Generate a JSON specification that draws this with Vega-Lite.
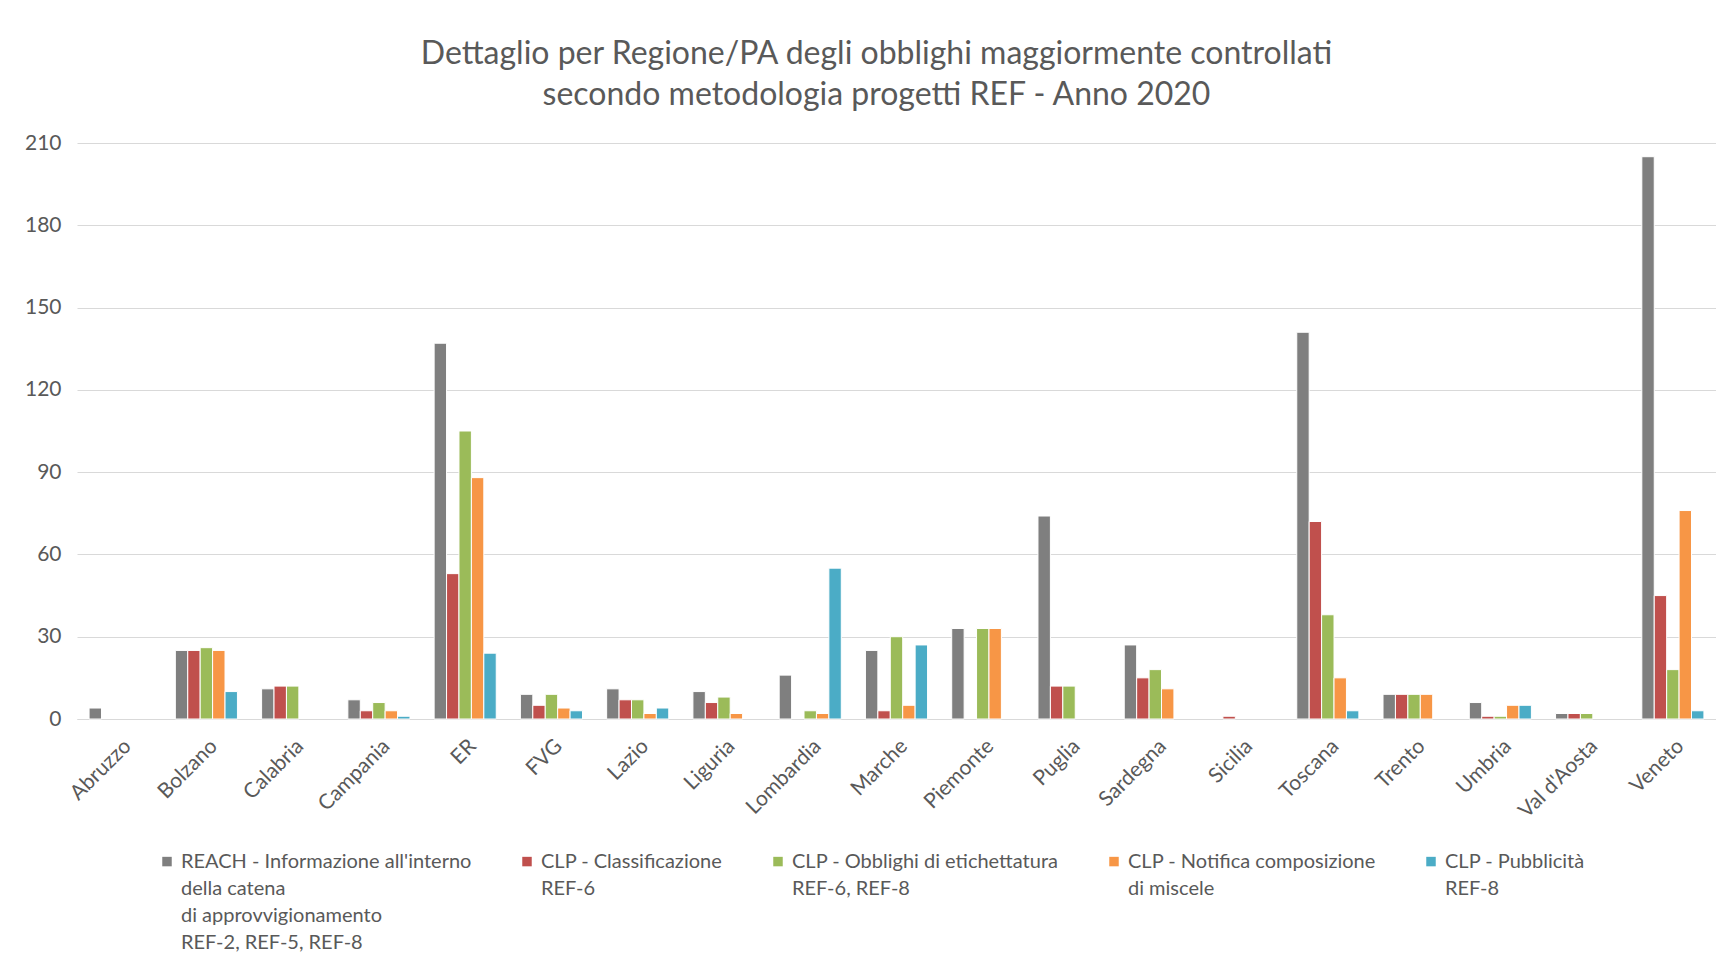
{
  "$schema": "https://vega.github.io/schema/vega-lite/v6.json",
  "width": 1639,
  "height": 576,
  "padding": {"left": 24, "top": 38, "right": 0, "bottom": 0},
  "background": "white",
  "title": {
    "text": ["Dettaglio per Regione/PA degli obblighi maggiormente controllati", "secondo metodologia progetti REF - Anno 2020"],
    "font": "Lato", "fontSize": 32, "fontWeight": "normal", "color": "#595959",
    "lineHeight": 41, "offset": 20, "dx": -20, "anchor": "middle"
  },
  "datasets": {
    "obblighi": [
      {"regione": "Abruzzo", "serie": "REACH - Informazione all'interno\n\u00a0della catena\ndi approvvigionamento\nREF-2, REF-5, REF-8", "valore": 4},
      {"regione": "Bolzano", "serie": "REACH - Informazione all'interno\n\u00a0della catena\ndi approvvigionamento\nREF-2, REF-5, REF-8", "valore": 25},
      {"regione": "Bolzano", "serie": "CLP - Classificazione\nREF-6", "valore": 25},
      {"regione": "Bolzano", "serie": "CLP - Obblighi di etichettatura\nREF-6, REF-8", "valore": 26},
      {"regione": "Bolzano", "serie": "CLP - Notifica composizione\ndi miscele", "valore": 25},
      {"regione": "Bolzano", "serie": "CLP - Pubblicità\nREF-8", "valore": 10},
      {"regione": "Calabria", "serie": "REACH - Informazione all'interno\n\u00a0della catena\ndi approvvigionamento\nREF-2, REF-5, REF-8", "valore": 11},
      {"regione": "Calabria", "serie": "CLP - Classificazione\nREF-6", "valore": 12},
      {"regione": "Calabria", "serie": "CLP - Obblighi di etichettatura\nREF-6, REF-8", "valore": 12},
      {"regione": "Campania", "serie": "REACH - Informazione all'interno\n\u00a0della catena\ndi approvvigionamento\nREF-2, REF-5, REF-8", "valore": 7},
      {"regione": "Campania", "serie": "CLP - Classificazione\nREF-6", "valore": 3},
      {"regione": "Campania", "serie": "CLP - Obblighi di etichettatura\nREF-6, REF-8", "valore": 6},
      {"regione": "Campania", "serie": "CLP - Notifica composizione\ndi miscele", "valore": 3},
      {"regione": "Campania", "serie": "CLP - Pubblicità\nREF-8", "valore": 1},
      {"regione": "ER", "serie": "REACH - Informazione all'interno\n\u00a0della catena\ndi approvvigionamento\nREF-2, REF-5, REF-8", "valore": 137},
      {"regione": "ER", "serie": "CLP - Classificazione\nREF-6", "valore": 53},
      {"regione": "ER", "serie": "CLP - Obblighi di etichettatura\nREF-6, REF-8", "valore": 105},
      {"regione": "ER", "serie": "CLP - Notifica composizione\ndi miscele", "valore": 88},
      {"regione": "ER", "serie": "CLP - Pubblicità\nREF-8", "valore": 24},
      {"regione": "FVG", "serie": "REACH - Informazione all'interno\n\u00a0della catena\ndi approvvigionamento\nREF-2, REF-5, REF-8", "valore": 9},
      {"regione": "FVG", "serie": "CLP - Classificazione\nREF-6", "valore": 5},
      {"regione": "FVG", "serie": "CLP - Obblighi di etichettatura\nREF-6, REF-8", "valore": 9},
      {"regione": "FVG", "serie": "CLP - Notifica composizione\ndi miscele", "valore": 4},
      {"regione": "FVG", "serie": "CLP - Pubblicità\nREF-8", "valore": 3},
      {"regione": "Lazio", "serie": "REACH - Informazione all'interno\n\u00a0della catena\ndi approvvigionamento\nREF-2, REF-5, REF-8", "valore": 11},
      {"regione": "Lazio", "serie": "CLP - Classificazione\nREF-6", "valore": 7},
      {"regione": "Lazio", "serie": "CLP - Obblighi di etichettatura\nREF-6, REF-8", "valore": 7},
      {"regione": "Lazio", "serie": "CLP - Notifica composizione\ndi miscele", "valore": 2},
      {"regione": "Lazio", "serie": "CLP - Pubblicità\nREF-8", "valore": 4},
      {"regione": "Liguria", "serie": "REACH - Informazione all'interno\n\u00a0della catena\ndi approvvigionamento\nREF-2, REF-5, REF-8", "valore": 10},
      {"regione": "Liguria", "serie": "CLP - Classificazione\nREF-6", "valore": 6},
      {"regione": "Liguria", "serie": "CLP - Obblighi di etichettatura\nREF-6, REF-8", "valore": 8},
      {"regione": "Liguria", "serie": "CLP - Notifica composizione\ndi miscele", "valore": 2},
      {"regione": "Lombardia", "serie": "REACH - Informazione all'interno\n\u00a0della catena\ndi approvvigionamento\nREF-2, REF-5, REF-8", "valore": 16},
      {"regione": "Lombardia", "serie": "CLP - Obblighi di etichettatura\nREF-6, REF-8", "valore": 3},
      {"regione": "Lombardia", "serie": "CLP - Notifica composizione\ndi miscele", "valore": 2},
      {"regione": "Lombardia", "serie": "CLP - Pubblicità\nREF-8", "valore": 55},
      {"regione": "Marche", "serie": "REACH - Informazione all'interno\n\u00a0della catena\ndi approvvigionamento\nREF-2, REF-5, REF-8", "valore": 25},
      {"regione": "Marche", "serie": "CLP - Classificazione\nREF-6", "valore": 3},
      {"regione": "Marche", "serie": "CLP - Obblighi di etichettatura\nREF-6, REF-8", "valore": 30},
      {"regione": "Marche", "serie": "CLP - Notifica composizione\ndi miscele", "valore": 5},
      {"regione": "Marche", "serie": "CLP - Pubblicità\nREF-8", "valore": 27},
      {"regione": "Piemonte", "serie": "REACH - Informazione all'interno\n\u00a0della catena\ndi approvvigionamento\nREF-2, REF-5, REF-8", "valore": 33},
      {"regione": "Piemonte", "serie": "CLP - Obblighi di etichettatura\nREF-6, REF-8", "valore": 33},
      {"regione": "Piemonte", "serie": "CLP - Notifica composizione\ndi miscele", "valore": 33},
      {"regione": "Puglia", "serie": "REACH - Informazione all'interno\n\u00a0della catena\ndi approvvigionamento\nREF-2, REF-5, REF-8", "valore": 74},
      {"regione": "Puglia", "serie": "CLP - Classificazione\nREF-6", "valore": 12},
      {"regione": "Puglia", "serie": "CLP - Obblighi di etichettatura\nREF-6, REF-8", "valore": 12},
      {"regione": "Sardegna", "serie": "REACH - Informazione all'interno\n\u00a0della catena\ndi approvvigionamento\nREF-2, REF-5, REF-8", "valore": 27},
      {"regione": "Sardegna", "serie": "CLP - Classificazione\nREF-6", "valore": 15},
      {"regione": "Sardegna", "serie": "CLP - Obblighi di etichettatura\nREF-6, REF-8", "valore": 18},
      {"regione": "Sardegna", "serie": "CLP - Notifica composizione\ndi miscele", "valore": 11},
      {"regione": "Sicilia", "serie": "CLP - Classificazione\nREF-6", "valore": 1},
      {"regione": "Toscana", "serie": "REACH - Informazione all'interno\n\u00a0della catena\ndi approvvigionamento\nREF-2, REF-5, REF-8", "valore": 141},
      {"regione": "Toscana", "serie": "CLP - Classificazione\nREF-6", "valore": 72},
      {"regione": "Toscana", "serie": "CLP - Obblighi di etichettatura\nREF-6, REF-8", "valore": 38},
      {"regione": "Toscana", "serie": "CLP - Notifica composizione\ndi miscele", "valore": 15},
      {"regione": "Toscana", "serie": "CLP - Pubblicità\nREF-8", "valore": 3},
      {"regione": "Trento", "serie": "REACH - Informazione all'interno\n\u00a0della catena\ndi approvvigionamento\nREF-2, REF-5, REF-8", "valore": 9},
      {"regione": "Trento", "serie": "CLP - Classificazione\nREF-6", "valore": 9},
      {"regione": "Trento", "serie": "CLP - Obblighi di etichettatura\nREF-6, REF-8", "valore": 9},
      {"regione": "Trento", "serie": "CLP - Notifica composizione\ndi miscele", "valore": 9},
      {"regione": "Umbria", "serie": "REACH - Informazione all'interno\n\u00a0della catena\ndi approvvigionamento\nREF-2, REF-5, REF-8", "valore": 6},
      {"regione": "Umbria", "serie": "CLP - Classificazione\nREF-6", "valore": 1},
      {"regione": "Umbria", "serie": "CLP - Obblighi di etichettatura\nREF-6, REF-8", "valore": 1},
      {"regione": "Umbria", "serie": "CLP - Notifica composizione\ndi miscele", "valore": 5},
      {"regione": "Umbria", "serie": "CLP - Pubblicità\nREF-8", "valore": 5},
      {"regione": "Val d'Aosta", "serie": "REACH - Informazione all'interno\n\u00a0della catena\ndi approvvigionamento\nREF-2, REF-5, REF-8", "valore": 2},
      {"regione": "Val d'Aosta", "serie": "CLP - Classificazione\nREF-6", "valore": 2},
      {"regione": "Val d'Aosta", "serie": "CLP - Obblighi di etichettatura\nREF-6, REF-8", "valore": 2},
      {"regione": "Veneto", "serie": "REACH - Informazione all'interno\n\u00a0della catena\ndi approvvigionamento\nREF-2, REF-5, REF-8", "valore": 205},
      {"regione": "Veneto", "serie": "CLP - Classificazione\nREF-6", "valore": 45},
      {"regione": "Veneto", "serie": "CLP - Obblighi di etichettatura\nREF-6, REF-8", "valore": 18},
      {"regione": "Veneto", "serie": "CLP - Notifica composizione\ndi miscele", "valore": 76},
      {"regione": "Veneto", "serie": "CLP - Pubblicità\nREF-8", "valore": 3}
    ]
  },
  "data": {"name": "obblighi"},
  "mark": {"type": "bar", "stroke": "white", "strokeWidth": 1},
  "encoding": {
    "x": {
      "field": "regione", "type": "nominal", "sort": null,
      "scale": {
        "domain": ["Abruzzo", "Bolzano", "Calabria", "Campania", "ER", "FVG", "Lazio", "Liguria", "Lombardia", "Marche", "Piemonte", "Puglia", "Sardegna", "Sicilia", "Toscana", "Trento", "Umbria", "Val d'Aosta", "Veneto"],
        "paddingInner": 0.28, "paddingOuter": 0.14
      },
      "axis": {
        "title": null, "labelAngle": -45, "ticks": false, "domainColor": "#d9d9d9",
        "labelPadding": 16, "labelFontSize": 21, "labelColor": "#595959", "labelFont": "Lato"
      }
    },
    "xOffset": {
      "field": "serie", "type": "nominal",
      "scale": {
        "domain": ["REACH - Informazione all'interno\n\u00a0della catena\ndi approvvigionamento\nREF-2, REF-5, REF-8", "CLP - Classificazione\nREF-6", "CLP - Obblighi di etichettatura\nREF-6, REF-8", "CLP - Notifica composizione\ndi miscele", "CLP - Pubblicità\nREF-8"],
        "paddingInner": 0, "paddingOuter": 0
      }
    },
    "y": {
      "field": "valore", "type": "quantitative",
      "scale": {"domain": [0, 210], "nice": false},
      "axis": {
        "title": null, "values": [0, 30, 60, 90, 120, 150, 180, 210], "domain": false, "ticks": false,
        "gridColor": "#d9d9d9", "labelPadding": 16, "labelFontSize": 21, "labelColor": "#595959", "labelFont": "Lato"
      }
    },
    "color": {
      "field": "serie", "type": "nominal",
      "scale": {
        "domain": ["REACH - Informazione all'interno\n\u00a0della catena\ndi approvvigionamento\nREF-2, REF-5, REF-8", "CLP - Classificazione\nREF-6", "CLP - Obblighi di etichettatura\nREF-6, REF-8", "CLP - Notifica composizione\ndi miscele", "CLP - Pubblicità\nREF-8"],
        "range": ["#7f7f7f", "#c0504d", "#9bbb59", "#f79646", "#4bacc6"]
      },
      "legend": {
        "title": null, "orient": "none", "legendX": 80, "legendY": 715,
        "direction": "horizontal", "columns": 5,
        "symbolType": "M-1,-2.45H1V-0.45H-1Z", "symbolSize": 90,
        "symbolStrokeWidth": 0, "labelFontSize": 20, "labelColor": "#595959", "labelFont": "Lato",
        "labelLimit": 600, "columnPadding": 45, "labelOffset": 4,
        "labelExpr": "slice(split(datum.label + '\\n \\n \\n ', '\\n'), 0, 4)", "labelBaseline": "alphabetic"
      }
    }
  },
  "config": {
    "view": {"stroke": null},
    "font": "Lato",
    "style": {"guide-label": {"lineHeight": 26.7}}
  }
}
